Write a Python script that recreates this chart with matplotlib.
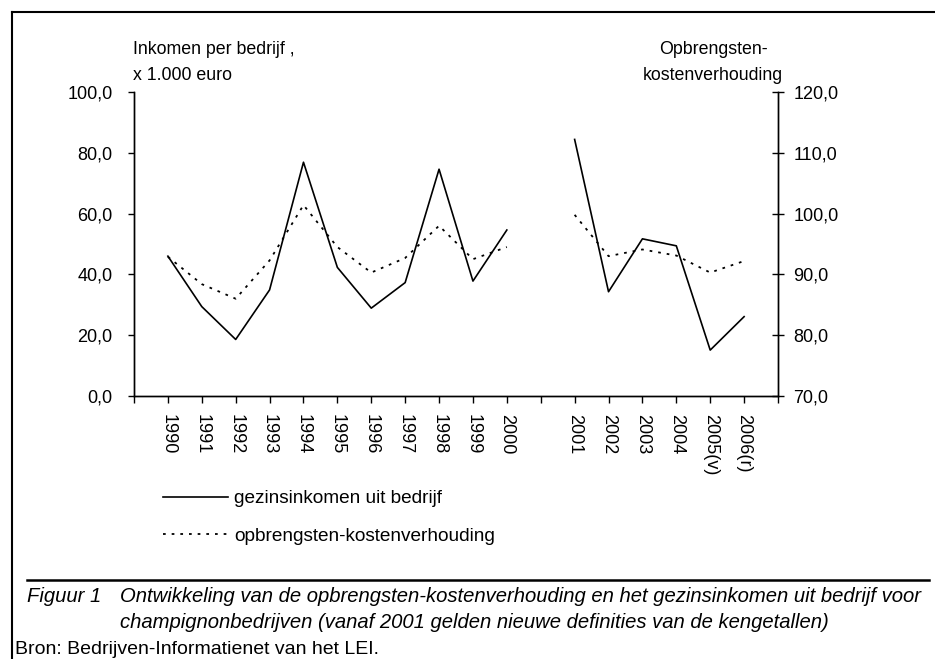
import numpy as np
import matplotlib
matplotlib.use("Agg")
import matplotlib.pyplot as plt
from matplotlib.lines import Line2D

# Data; lege plek tussen 2000 en 2001
jaren = ["1990", "1991", "1992", "1993", "1994", "1995", "1996", "1997", "1998",
         "1999", "2000", "", "2001", "2002", "2003", "2004", "2005(v)", "2006(r)"]
inkomen = [46.0, 29.4, 18.6, 34.9, 76.9, 42.3, 28.9, 37.3, 74.6, 37.8, 54.6,
           np.nan, 84.4, 34.3, 51.7, 49.4, 15.1, 26.1]
ok_verhouding = [92.9, 88.4, 86.0, 92.3, 101.4, 94.5, 90.3, 92.7, 98.0, 92.5, 94.5,
                 np.nan, 99.8, 93.0, 94.1, 93.1, 90.3, 92.2]

W, H = 935, 659
plt.rcParams['font.family'] = ['Liberation Sans', 'DejaVu Sans']

fig = plt.figure(figsize=(W / 100, H / 100), dpi=100)
fig.patch.set_facecolor("white")

def fx(px):
    return px / W

def fy(py):
    return 1 - py / H

ax = fig.add_axes([fx(134), fy(396), fx(778) - fx(134), fy(92) - fy(396)])
ax2 = ax.twinx()

x = np.arange(len(jaren))
ax.plot(x, inkomen, color="black", lw=1.2, label="gezinsinkomen uit bedrijf")
ax2.plot(x, ok_verhouding, color="black", lw=1.3, linestyle=(0, (1.5, 3.3)),
         label="opbrengsten-kostenverhouding")

ax.set_xlim(-1, len(jaren))
ax.set_ylim(0, 100)
ax2.set_ylim(70, 120)
ax.set_yticks(np.arange(0, 101, 20))
ax.set_yticklabels([f"{v:.1f}".replace(".", ",") for v in np.arange(0, 101, 20)])
ax2.set_yticks(np.arange(70, 121, 10))
ax2.set_yticklabels([f"{v:.1f}".replace(".", ",") for v in np.arange(70, 121, 10)])

ax.set_xticks(np.arange(-1, len(jaren) + 1))
ax.set_xticklabels([""] + jaren + [""], rotation=270, va="top", ha="center")

for a in (ax, ax2):
    a.spines["top"].set_visible(False)
    for s in a.spines.values():
        s.set_linewidth(1.0)
ax.tick_params(axis="x", direction="out", length=5, width=1, pad=8, labelsize=13)
ax.tick_params(axis="y", direction="out", length=4.5, width=1, pad=11, labelsize=13)
ax2.tick_params(axis="y", direction="inout", length=8, width=1, pad=7, labelsize=13)

# as-titels
fig.text(fx(133), fy(49), "Inkomen per bedrijf ,", fontsize=12.8, ha="left", va="center")
fig.text(fx(133), fy(76), "x 1.000 euro", fontsize=12.8, ha="left", va="center")
fig.text(fx(713), fy(49), "Opbrengsten-", fontsize=12.8, ha="center", va="center")
fig.text(fx(713), fy(75), "kostenverhouding", fontsize=12.8, ha="center", va="center")

# legenda
handles = [Line2D([], [], color="black", lw=1.2),
           Line2D([], [], color="black", lw=1.3, linestyle=(0, (1.5, 3.3)))]
fig.legend(handles, ["gezinsinkomen uit bedrijf", "opbrengsten-kostenverhouding"],
           loc="upper left", bbox_to_anchor=(fx(163), fy(490)), bbox_transform=fig.transFigure,
           frameon=False, borderpad=0, borderaxespad=0, handlelength=3.4,
           handletextpad=0.35, labelspacing=1.05, fontsize=13.7)

# kader en scheidingslijn
fig.add_artist(Line2D([fx(12), fx(12)], [fy(12), 0], color="black", lw=1.5,
                      transform=fig.transFigure))
fig.add_artist(Line2D([fx(12), 1], [fy(12), fy(12)], color="black", lw=1.5,
                      transform=fig.transFigure))
fig.add_artist(Line2D([fx(27), fx(929)], [fy(580), fy(580)], color="black", lw=1.8,
                      transform=fig.transFigure))

# onderschrift
fig.text(fx(27), fy(597), "Figuur 1", fontsize=14.6, style="italic",
         ha="left", va="center")
fig.text(fx(120), fy(597),
         "Ontwikkeling van de opbrengsten-kostenverhouding en het gezinsinkomen uit bedrijf voor",
         fontsize=14.6, style="italic", ha="left", va="center")
fig.text(fx(120), fy(622),
         "champignonbedrijven (vanaf 2001 gelden nieuwe definities van de kengetallen)",
         fontsize=14.6, style="italic", ha="left", va="center")
fig.text(fx(15), fy(649), "Bron: Bedrijven-Informatienet van het LEI.", fontsize=14,
         ha="left", va="center")

fig.savefig("out.png", dpi=100, facecolor="white")
